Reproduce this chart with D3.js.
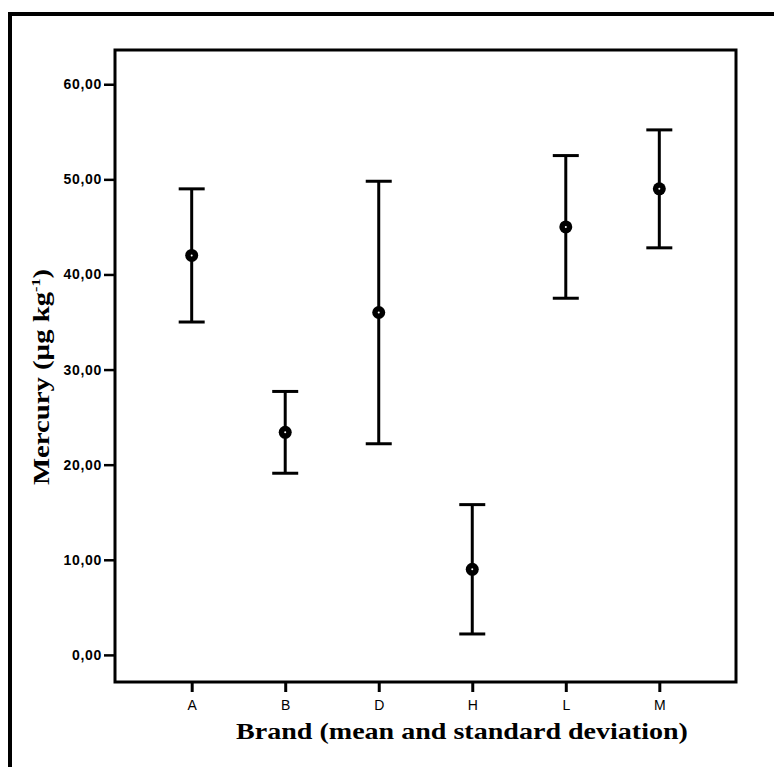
<!DOCTYPE html>
<html>
<head>
<meta charset="utf-8">
<script src="https://cdn.jsdelivr.net/npm/d3@7"></script>
<style>
  body { margin: 0; background: #fff; }
  svg { display: block; }
</style>
</head>
<body>
<svg id="chart" width="774" height="767"></svg>
<script>
const brands = ["A", "B", "D", "H", "L", "M"];
const means = [42.0, 23.4, 36.0, 9.0, 45.0, 49.0];
const sds = [7.0, 4.3, 13.8, 6.8, 7.5, 6.2];
const yTicks = [0, 10, 20, 30, 40, 50, 60];

const svg = d3.select("#chart");

// outer frame (only top and left edges show)
svg.append("rect").attr("x", 8).attr("y", 12).attr("width", 766).attr("height", 4).attr("fill", "#000");
svg.append("rect").attr("x", 8).attr("y", 12).attr("width", 4).attr("height", 755).attr("fill", "#000");

const plotLeft = 115, plotRight = 736, plotTop = 50, plotBottom = 682;

const x = d3.scalePoint().domain(brands).range([plotLeft, plotRight]).padding(0.82);
const y = d3.scaleLinear().domain([-2.85, 63.6]).range([plotBottom, plotTop]);

const fmt = d => d.toFixed(2).replace(".", ",");

const yAxis = svg.append("g")
  .attr("transform", `translate(${plotLeft},0)`)
  .call(d3.axisLeft(y).tickValues(yTicks).tickFormat(fmt).tickSize(11).tickPadding(2));
yAxis.select(".domain").remove();
yAxis.selectAll("line").attr("stroke", "#000").attr("stroke-width", 2.5);
yAxis.selectAll("text")
  .attr("fill", "#000")
  .style("font-family", "Liberation Sans, Arial, sans-serif")
  .style("font-size", "14px")
  .style("font-weight", "bold")
  .style("letter-spacing", "0.7px");

const xAxis = svg.append("g")
  .attr("transform", `translate(0,${plotBottom})`)
  .call(d3.axisBottom(x).tickSize(10).tickPadding(8));
xAxis.select(".domain").remove();
xAxis.selectAll("line").attr("stroke", "#000").attr("stroke-width", 3);
xAxis.selectAll("text")
  .attr("fill", "#000")
  .style("font-family", "Liberation Sans, Arial, sans-serif")
  .style("font-size", "14px");

// plot box
svg.append("rect")
  .attr("x", plotLeft).attr("y", plotTop)
  .attr("width", plotRight - plotLeft).attr("height", plotBottom - plotTop)
  .attr("fill", "none").attr("stroke", "#000").attr("stroke-width", 3);

// error bars
const bars = svg.append("g").attr("id", "errorbars");
brands.forEach((b, i) => {
  const cx = x(b);
  const lo = y(means[i] - sds[i]);
  const hi = y(means[i] + sds[i]);
  const g = bars.append("g");
  g.append("line").attr("x1", cx).attr("x2", cx).attr("y1", hi).attr("y2", lo)
    .attr("stroke", "#000").attr("stroke-width", 3);
  for (const yy of [hi, lo]) {
    g.append("line").attr("x1", cx - 13).attr("x2", cx + 13).attr("y1", yy).attr("y2", yy)
      .attr("stroke", "#000").attr("stroke-width", 3);
  }
  g.append("circle").attr("cx", cx).attr("cy", y(means[i])).attr("r", 6.5).attr("fill", "#000");
  g.append("circle").attr("cx", cx).attr("cy", y(means[i])).attr("r", 1).attr("fill", "#fff");
});

// axis titles (the scanned original is stretched, hence the scale)
const serif = "Liberation Serif, Times New Roman, serif";
svg.append("text")
  .attr("transform", "translate(462,739) scale(1.22,1)")
  .attr("text-anchor", "middle")
  .style("font-family", serif).style("font-size", "23px").style("font-weight", "bold")
  .text("Brand (mean and standard deviation)");

const yt = svg.append("text")
  .attr("transform", "translate(49,377) rotate(-90) scale(1.25,1)")
  .attr("text-anchor", "middle")
  .style("font-family", serif).style("font-size", "23px").style("font-weight", "bold");
yt.append("tspan").text("Mercury (µg kg");
yt.append("tspan").attr("dy", -9).style("font-size", "13px").text("-1");
yt.append("tspan").attr("dy", 9).text(")");
</script>
</body>
</html>
